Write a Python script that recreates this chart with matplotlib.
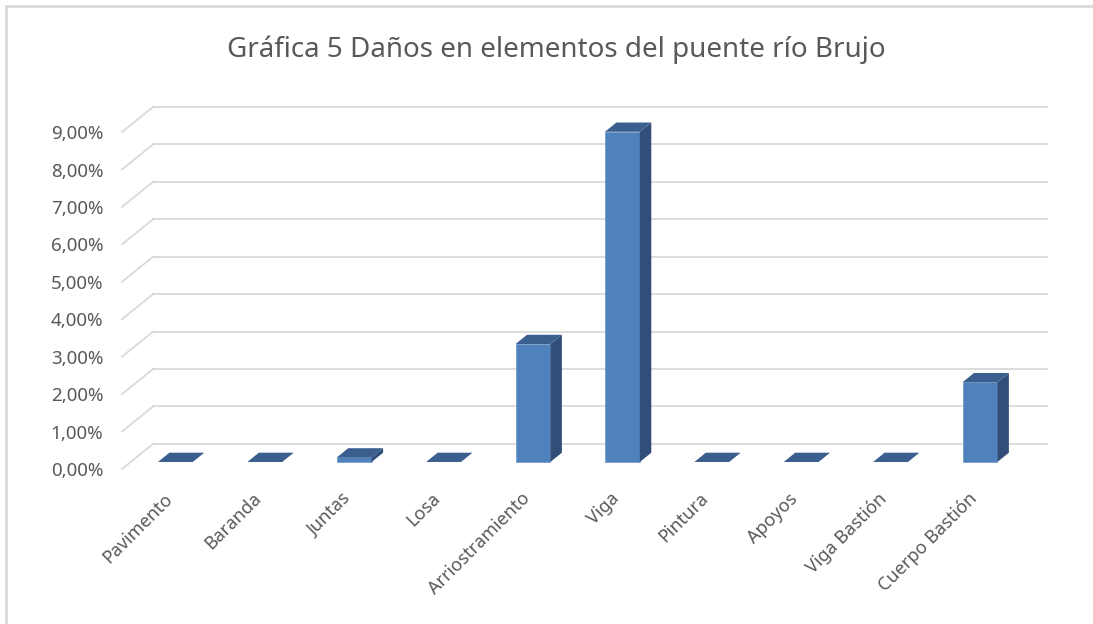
import matplotlib

matplotlib.use("Agg")
import matplotlib.pyplot as plt
from matplotlib.patches import Polygon, Rectangle

TITLE = "Gráfica 5 Daños en elementos del puente río Brujo"
CATEGORIES = ["Pavimento", "Baranda", "Juntas", "Losa", "Arriostramiento",
              "Viga", "Pintura", "Apoyos", "Viga Bastión", "Cuerpo Bastión"]
VALUES = [0.0, 0.0, 0.12, 0.0, 3.15, 8.82, 0.0, 0.0, 0.0, 2.13]  # percent
Y_TICKS = list(range(10))

FRONT = "#4F81BD"
SIDE = "#314E78"
TOP = "#3A5F8E"
GRID = "#D9D9D9"
TEXT = "#595959"

# pseudo-3D depth of the floor, in data units (category, percent)
DX, DY = 0.347, 0.67
BAR_W = 0.39
BAR_F0 = 0.28   # bar front face position within the depth
BAR_D = 0.37    # bar depth fraction

plt.rcParams["font.family"] = ["Noto Sans", "DejaVu Sans"]

fig = plt.figure(figsize=(10.93, 6.24), dpi=100)
ax = fig.add_axes([122 / 1093, 155 / 624, 925 / 1093, 362 / 624])
n = len(CATEGORIES)
x0, x1 = -0.5, n - 0.5
ax.set_xlim(x0, x1 + DX)
ax.set_ylim(0, max(Y_TICKS) + DY)
for s in ax.spines.values():
    s.set_visible(False)

# back wall gridlines and floor diagonals
for k in Y_TICKS:
    ax.plot([x0 + DX, x1 + DX], [k + DY, k + DY], color=GRID, lw=1.3,
            clip_on=False, zorder=1)
    ax.plot([x0, x0 + DX], [k, k + DY], color=GRID, lw=1.3,
            clip_on=False, zorder=1)

# bars drawn as front face + side + top
for i, v in enumerate(VALUES):
    cx = i + BAR_F0 * DX
    b = BAR_F0 * DY
    xl, xr = cx - BAR_W / 2, cx + BAR_W / 2
    ox, oy = BAR_D * DX, BAR_D * DY
    if v > 0:
        ax.bar(cx, v, width=BAR_W, bottom=b, color=FRONT, zorder=3,
               edgecolor="#6E97C8", linewidth=0.5, clip_on=False)
        ax.add_patch(Polygon([(xr, b), (xr + ox, b + oy), (xr + ox, b + v + oy),
                              (xr, b + v)], closed=True, facecolor=SIDE,
                             edgecolor="none", zorder=3, clip_on=False))
    ax.add_patch(Polygon([(xl, b + v), (xr, b + v), (xr + ox, b + v + oy),
                          (xl + ox, b + v + oy)], closed=True, facecolor=TOP,
                         edgecolor="none", zorder=3, clip_on=False))

ax.set_yticks(Y_TICKS, labels=[f"{k:.2f}%".replace(".", ",") for k in Y_TICKS])
ax.tick_params(axis="y", length=0, pad=13.5, labelsize=13.5, labelcolor=TEXT)
ax.set_xticks([])
for i, name in enumerate(CATEGORIES):
    ax.text(i + 0.03, -0.72, name, rotation=45, ha="right", va="center",
            rotation_mode="anchor", fontsize=13, color=TEXT, clip_on=False)

fig.text(556 / 1093, 1 - 50 / 624, TITLE, ha="center", va="center",
         fontsize=20, color=TEXT)

fig.patches.append(Rectangle((6 / 1093, -0.1), 1.2, 0.1 + 618 / 624,
                             transform=fig.transFigure, fill=False,
                             edgecolor=GRID, linewidth=2))

fig.savefig("out.png", dpi=100)
